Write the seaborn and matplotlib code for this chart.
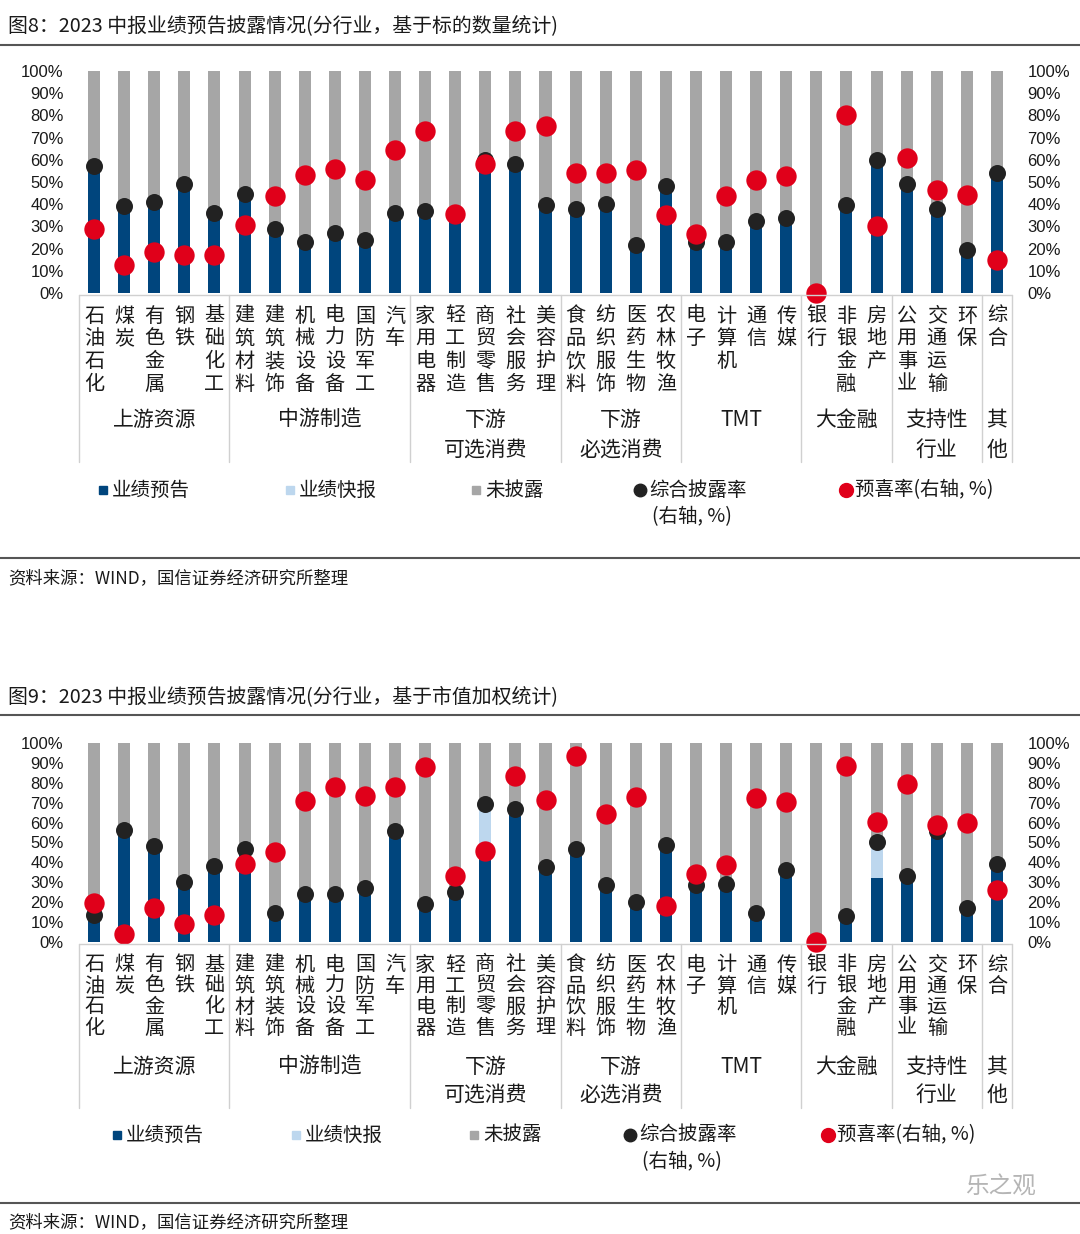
import numpy as np
import pandas as pd
import matplotlib
matplotlib.use("Agg")
import matplotlib.pyplot as plt
import matplotlib.transforms as mtransforms
from matplotlib.lines import Line2D
import seaborn as sns

W, H = 1080, 1234

categories = ["石油石化", "煤炭", "有色金属", "钢铁", "基础化工",
              "建筑材料", "建筑装饰", "机械设备", "电力设备", "国防军工", "汽车",
              "家用电器", "轻工制造", "商贸零售", "社会服务", "美容护理",
              "食品饮料", "纺织服饰", "医药生物", "农林牧渔",
              "电子", "计算机", "通信", "传媒",
              "银行", "非银金融", "房地产",
              "公用事业", "交通运输", "环保",
              "综合"]
group_names = ["上游资源", "中游制造", "下游\n可选消费", "下游\n必选消费", "TMT", "大金融", "支持性\n行业", "其\n他"]
group_sizes = [5, 6, 5, 4, 4, 3, 3, 1]

# 图8 基于标的数量统计 (%)
disclosed_cnt = [57, 39, 41, 49, 36, 44.5, 29, 23, 27, 24, 36, 37, 35, 60, 58, 39.5,
                 38, 40, 21.5, 48, 23, 23, 32.5, 34, 0, 39.5, 60, 49, 38, 19.5, 54]
kuaibao_cnt = [0] * 31
xi_cnt = [29, 12.5, 18.5, 17, 17, 30.5, 43.5, 53, 56, 51, 64.5, 73, 35.5, 58, 73, 75,
          54, 54, 55.5, 35, 26.5, 43.5, 51, 52.5, 0, 80, 30, 61, 46.5, 44, 15]

# 图9 基于市值加权统计 (%)
disclosed_mv = [13.5, 56.5, 48, 30, 38, 46.5, 14.5, 24, 24, 27, 56, 19, 25, 69.5, 67, 37.5,
                46.5, 28.5, 20, 48.5, 28.5, 29, 14.5, 36, 0, 13, 50.5, 33, 56, 17, 39]
kuaibao_mv = [0] * 31
kuaibao_mv[13] = 25.5
kuaibao_mv[26] = 18.5
xi_mv = [19.5, 4, 17, 9, 13.5, 39, 45, 71, 78, 73.5, 78, 88, 33, 45.5, 83.5, 71.5,
         93.5, 64.5, 73, 18, 34, 38.5, 72.5, 70.5, 0, 88.5, 60.5, 79.5, 59, 60, 26]

DBLUE = "#00457d"
LBLUE = "#bdd7ee"
GRAY = "#a6a6a6"
BLACK = "#222222"
RED = "#e0001a"
TXT = "#1a1a1a"

sns.set_theme(style="white")
plt.rcParams['font.family'] = ['Noto Sans CJK SC', 'DejaVu Sans']

fig = plt.figure(figsize=(W / 100, H / 100), dpi=100)


def fy(py):
    return 1 - py / H


def fx(px):
    return px / W


def hline(py, lw=1.5):
    fig.add_artist(Line2D([0, 1], [fy(py), fy(py)], color="#555555", lw=lw, transform=fig.transFigure))


def panel(title, title_y, top_px, bot_px, disclosed, kuaibao, xi, step, grp_y, sep_bot, leg_y, leg_x, src_line, src_y):
    fig.text(fx(8), fy(title_y), title, fontsize=14.3, color=TXT, va="center", ha="left")
    hline(title_y + 18)

    ax = fig.add_axes([fx(79), fy(bot_px), fx(1012) - fx(79), (bot_px - top_px) / H])
    df = pd.DataFrame({
        "pos": np.arange(len(categories)),
        "total": 100.0,
        "disclosed": disclosed,
        "yugao": np.array(disclosed) - np.array(kuaibao),
        "xi": xi,
    })
    sns.barplot(data=df, x="pos", y="total", color=GRAY, saturation=1, width=0.4,
                errorbar=None, linewidth=0, ax=ax)
    sns.barplot(data=df, x="pos", y="disclosed", color=LBLUE, saturation=1, width=0.4,
                errorbar=None, linewidth=0, ax=ax)
    sns.barplot(data=df, x="pos", y="yugao", color=DBLUE, saturation=1, width=0.4,
                errorbar=None, linewidth=0, ax=ax)
    sns.scatterplot(data=df[df["disclosed"] > 0], x="pos", y="disclosed", color=BLACK, s=150,
                    linewidth=0, ax=ax, zorder=4, clip_on=False)
    sns.scatterplot(data=df, x="pos", y="xi", color=RED, s=215, linewidth=0, ax=ax,
                    zorder=5, clip_on=False)

    ax.set_xlim(-0.5, len(categories) - 0.5)
    ax.set_ylim(0, 100)
    ax.set_xlabel("")
    ax.set_ylabel("")
    ax.set_xticks([])
    ax.set_yticks(range(0, 101, 10))
    ax.set_yticklabels([f"{v}%" for v in range(0, 101, 10)])
    ax.tick_params(axis="y", length=0, labelright=True, labelsize=12, pad=11, labelcolor=TXT)
    for lab in ax.get_yticklabels():
        lab.set_fontfamily("Liberation Sans")
    sns.despine(ax=ax, left=True, bottom=True)

    trans = mtransforms.blended_transform_factory(ax.transData, fig.transFigure)

    # category table lines
    bounds = [-0.5] + list(np.cumsum(group_sizes) - 0.5)
    fig.add_artist(Line2D([-0.5, len(categories) - 0.5], [fy(bot_px + 2)] * 2, color="#d0d0d0",
                          lw=1, transform=trans))
    for b in bounds:
        fig.add_artist(Line2D([b, b], [fy(bot_px + 2), fy(sep_bot)], color="#d0d0d0", lw=1,
                              transform=trans))

    for i, name in enumerate(categories):
        for j, ch in enumerate(name):
            fig.text(i, fy(bot_px + 23 + j * step), ch, transform=trans, ha="center",
                     va="center", fontsize=14.5, color=TXT)

    start = 0
    for g, n in zip(group_names, group_sizes):
        cx = start + (n - 1) / 2
        for k, line in enumerate(g.split("\n")):
            fig.text(cx, fy(grp_y[k]), line, transform=trans, ha="center", va="center",
                     fontsize=15, color=TXT)
        start += n

    # legend
    labels = ["业绩预告", "业绩快报", "未披露", "综合披露率", "预喜率(右轴, %)"]
    colors = [DBLUE, LBLUE, GRAY, BLACK, RED]
    marks = ["s", "s", "s", "o", "o"]
    sizes = [6, 6, 6, 9, 10]
    for x0, lab, c, m, ms in zip(leg_x, labels, colors, marks, sizes):
        fig.add_artist(Line2D([fx(x0)], [fy(leg_y)], marker=m, ms=ms, color=c, lw=0,
                              transform=fig.transFigure))
        fig.text(fx(x0 + 9), fy(leg_y), lab, fontsize=14, color=TXT, va="center", ha="left")
    fig.text(fx(leg_x[3] + 12), fy(leg_y + 27), "(右轴, %)", fontsize=14, color=TXT,
             va="center", ha="left")

    hline(src_line)
    fig.text(fx(8), fy(src_y), "资料来源：WIND，国信证券经济研究所整理", fontsize=12.5, color=TXT,
             va="center", ha="left")
    return ax


panel("图8：2023 中报业绩预告披露情况(分行业，基于标的数量统计)", 27, 71, 293,
      disclosed_cnt, kuaibao_cnt, xi_cnt, 22.7, (420, 450), 462, 490,
      [103, 290, 476, 640, 846], 558, 578)

panel("图9：2023 中报业绩预告披露情况(分行业，基于市值加权统计)", 697, 743, 942,
      disclosed_mv, kuaibao_mv, xi_mv, 21, (1067, 1095), 1108, 1135,
      [117, 296, 474, 630, 828], 1203, 1222)

fig.text(fx(965), fy(1187), "乐之观", fontsize=17, color="#b5b5b5", va="center", ha="left")

fig.savefig("out.png", dpi=100)
